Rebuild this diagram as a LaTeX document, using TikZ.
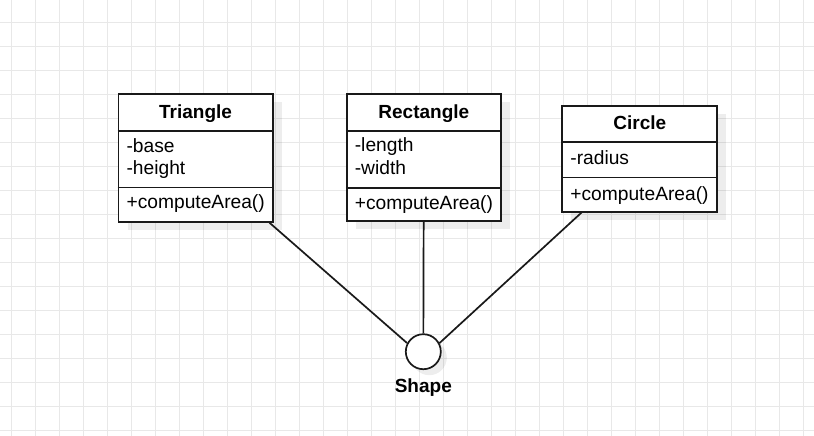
\documentclass[tikz,border=0pt]{standalone}
\usepackage{fontspec}
\setmainfont{Liberation Sans}
\usetikzlibrary{shadows}

\begin{document}
\begin{tikzpicture}[x=1pt,y=1pt,
  gridline/.style={draw=black!9, line width=1pt},
  classbox/.style={draw=black!90, line width=1.8pt, fill=white, minimum width=154.2pt, inner sep=0pt,
    drop shadow={shadow xshift=9pt, shadow yshift=-8pt, fill=black, opacity=0.07}},
  divider/.style={draw=black!90, line width=1.8pt},
  classname/.style={anchor=base, inner sep=0pt, font=\bfseries\fontsize{19}{23}\selectfont},
  member/.style={anchor=base west, inner sep=0pt, font=\fontsize{19.2}{23}\selectfont},
  link/.style={draw=black!90, line width=1.7pt}]
\useasboundingbox (0,0) rectangle (814,-436);
\fill[white] (0,0) rectangle (814,-436);
% grid
\foreach \i in {0,...,33}
  \draw[gridline] ({11.7+24*\i},0) -- ({11.7+24*\i},-436);
\foreach \j in {0,...,17}
  \draw[gridline] (0,{-22.7-24*\j}) -- (814,{-22.7-24*\j});

% Triangle
\node[classbox, minimum height=127.7pt] (tri) at (195.6,-157.85) {};
\draw[divider] ([yshift=-37.7pt]tri.north west) -- ([yshift=-37.7pt]tri.north east);
\draw[divider] ([yshift=-94.3pt]tri.north west) -- ([yshift=-94.3pt]tri.north east);
\node[classname] (triname) at ([yshift=-25pt]tri.north) {Triangle};
\node[member] (tria) at ([xshift=8.8pt,yshift=-59.3pt]tri.north west) {-base};
\node[member] (trib) at ([xshift=8.8pt,yshift=-81.7pt]tri.north west) {-height};
\node[member] (trim) at ([xshift=8.8pt,yshift=-115.3pt]tri.north west) {+computeArea()};

% Rectangle
\node[classbox, minimum height=127pt] (rect) at (423.85,-157.5) {};
\draw[divider] ([yshift=-37.7pt]rect.north west) -- ([yshift=-37.7pt]rect.north east);
\draw[divider] ([yshift=-95pt]rect.north west) -- ([yshift=-95pt]rect.north east);
\node[classname] (rectname) at ([yshift=-25.3pt]rect.north) {Rectangle};
\node[member] (recta) at ([xshift=8.8pt,yshift=-58.7pt]rect.north west) {-length};
\node[member] (rectb) at ([xshift=8.8pt,yshift=-81.7pt]rect.north west) {-width};
\node[member] (rectm) at ([xshift=8.8pt,yshift=-116.2pt]rect.north west) {+computeArea()};

% Circle
\node[classbox, minimum width=155pt, minimum height=105.7pt] (circ) at (639.8,-158.85) {};
\draw[divider] ([yshift=-36.7pt]circ.north west) -- ([yshift=-36.7pt]circ.north east);
\draw[divider] ([yshift=-72.3pt]circ.north west) -- ([yshift=-72.3pt]circ.north east);
\node[classname] (circname) at ([yshift=-24.7pt]circ.north) {Circle};
\node[member] (circa) at ([xshift=8.8pt,yshift=-59.7pt]circ.north west) {-radius};
\node[member] (circm) at ([xshift=8.8pt,yshift=-95pt]circ.north west) {+computeArea()};

% Shape interface
\node[circle, draw=black!90, line width=1.7pt, fill=white, minimum size=35pt, inner sep=0pt,
  drop shadow={shadow xshift=6pt, shadow yshift=-6pt, fill=black, opacity=0.07}] (shape) at (423.3,-351.7) {};
\node[classname] (shapename) at (423.3,-392.3) {Shape};

\draw[link] (tri) -- (shape.152);
\draw[link] (rect) -- (shape);
\draw[link] (circ) -- (shape.28);
\end{tikzpicture}
\end{document}
